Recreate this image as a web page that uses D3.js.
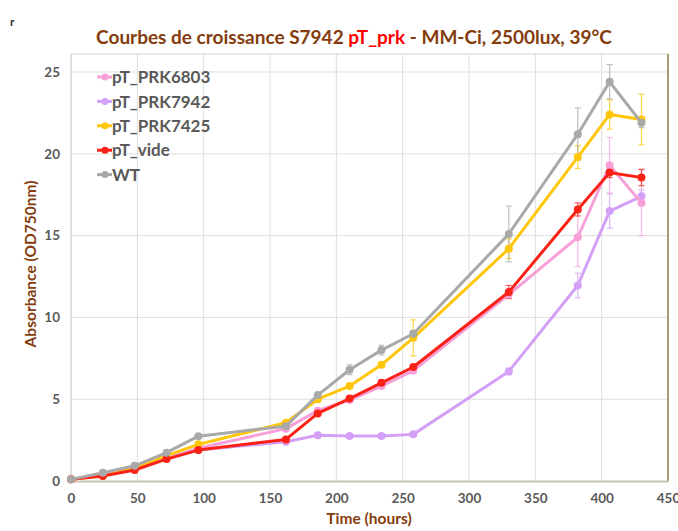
<!DOCTYPE html>
<html>
<head>
<meta charset="utf-8">
<script src="https://cdn.jsdelivr.net/npm/d3@7"></script>
<style>
  html, body { margin: 0; padding: 0; background: #fff; }
  svg { display: block; }
</style>
</head>
<body>
<svg id="chart" width="678" height="531"></svg>
<script>
// Sampling times (hours)
const hours = [0, 24, 48, 72, 96, 162, 186, 210, 234, 258, 330, 382, 406, 430];

// Absorbance (OD750nm) per strain
const prk6803 = [0.1, 0.35, 0.75, 1.4, 2.0, 3.2, 4.3, 4.95, 5.8, 6.75, 11.4, 14.9, 19.3, 17.0];
const prk7942 = [0.1, 0.35, 0.7, 1.4, 1.9, 2.4, 2.8, 2.75, 2.75, 2.85, 6.7, 11.95, 16.5, 17.4];
const prk7425 = [0.1, 0.3, 0.8, 1.55, 2.24, 3.56, 5.0, 5.8, 7.1, 8.75, 14.2, 19.8, 22.4, 22.1];
const vide    = [0.1, 0.3, 0.67, 1.34, 1.89, 2.54, 4.13, 5.04, 6.0, 6.97, 11.55, 16.6, 18.85, 18.55];
const wt      = [0.1, 0.5, 0.93, 1.73, 2.74, 3.35, 5.25, 6.8, 8.0, 9.0, 15.1, 21.2, 24.4, 21.9];

// Standard deviations
const err6803 = [0, 0, 0, 0, 0, 0, 0, 0, 0, 0, 0, 1.8, 1.7, 2.0];
const err7942 = [0, 0, 0, 0, 0, 0, 0, 0, 0, 0, 0.2, 0.75, 1.05, 0.4];
const err7425 = [0, 0, 0, 0, 0, 0, 0, 0, 0, 1.1, 0.6, 0.7, 0.9, 1.55];
const errVide = [0, 0, 0, 0, 0, 0, 0, 0, 0, 0, 0.4, 0.4, 0.3, 0.5];
const errWt   = [0, 0, 0, 0, 0, 0, 0, 0.3, 0.3, 0.2, 1.7, 1.6, 1.05, 0.3];

const seriesNames = ["pT_PRK6803", "pT_PRK7942", "pT_PRK7425", "pT_vide", "WT"];

const xTicks = [0, 50, 100, 150, 200, 250, 300, 350, 400, 450];
const yTicks = [0, 5, 10, 15, 20, 25];

const series = [
  { name: seriesNames[0], values: prk6803, err: err6803, color: "#F7A0D8" },
  { name: seriesNames[1], values: prk7942, err: err7942, color: "#D4A0F7" },
  { name: seriesNames[2], values: prk7425, err: err7425, color: "#FFC60A" },
  { name: seriesNames[3], values: vide,    err: errVide, color: "#FA2216" },
  { name: seriesNames[4], values: wt,      err: errWt,   color: "#A9A9A9" }
];

const svg = d3.select("#chart");
const plotLeft = 71, plotRight = 668, plotTop = 54, plotBottom = 481;

const x = d3.scaleLinear().domain([0, 450]).range([plotLeft, plotRight]);
const y = d3.scaleLinear().domain([0, 26.1]).range([plotBottom, plotTop]);

const font = "Lato, 'Open Sans', sans-serif";

// Gridlines
svg.append("g")
  .selectAll("line")
  .data(xTicks.slice(1, -1))
  .join("line")
  .attr("x1", d => x(d)).attr("x2", d => x(d))
  .attr("y1", plotTop).attr("y2", plotBottom)
  .attr("stroke", "#dedede").attr("stroke-width", 1);
svg.append("g")
  .selectAll("line")
  .data(yTicks.slice(1))
  .join("line")
  .attr("x1", plotLeft).attr("x2", plotRight)
  .attr("y1", d => y(d)).attr("y2", d => y(d))
  .attr("stroke", "#dedede").attr("stroke-width", 1);

// Plot frame
svg.append("line").attr("x1", plotLeft).attr("x2", plotRight).attr("y1", plotTop).attr("y2", plotTop)
  .attr("stroke", "#d8d4c8").attr("stroke-width", 1);
svg.append("line").attr("x1", plotRight).attr("x2", plotRight).attr("y1", plotTop).attr("y2", plotBottom)
  .attr("stroke", "#a89c70").attr("stroke-width", 2);
svg.append("line").attr("x1", plotLeft).attr("x2", plotLeft).attr("y1", plotTop).attr("y2", plotBottom)
  .attr("stroke", "#d4d4d4").attr("stroke-width", 1.5);

// Axes
const xAxis = svg.append("g")
  .attr("transform", `translate(0,${plotBottom})`)
  .call(d3.axisBottom(x).tickValues(xTicks).tickSize(0).tickPadding(12));
xAxis.select(".domain").attr("stroke", "#c9c4b4").attr("stroke-width", 2);
xAxis.selectAll("text")
  .attr("font-family", font).attr("font-weight", "bold")
  .attr("font-size", 13.5).attr("fill", "#595959");

const yAxis = svg.append("g")
  .attr("transform", `translate(${plotLeft},0)`)
  .call(d3.axisLeft(y).tickValues(yTicks).tickSize(0).tickPadding(11));
yAxis.select(".domain").remove();
yAxis.selectAll("text")
  .attr("font-family", font).attr("font-weight", "bold")
  .attr("font-size", 13.5).attr("fill", "#595959");

// Error bars
series.forEach(s => {
  const g = svg.append("g").attr("opacity", 0.75);
  const pts = hours.map((h, i) => ({ h, v: s.values[i], e: s.err[i] })).filter(p => p.e > 0);
  g.selectAll("line.bar").data(pts).join("line")
    .attr("class", "bar")
    .attr("x1", d => x(d.h)).attr("x2", d => x(d.h))
    .attr("y1", d => y(d.v - d.e)).attr("y2", d => y(d.v + d.e))
    .attr("stroke", s.color).attr("stroke-width", 1.2);
  [-1, 1].forEach(sign => {
    g.append("g").selectAll("line").data(pts).join("line")
      .attr("x1", d => x(d.h) - 3).attr("x2", d => x(d.h) + 3)
      .attr("y1", d => y(d.v + sign * d.e)).attr("y2", d => y(d.v + sign * d.e))
      .attr("stroke", s.color).attr("stroke-width", 1.2);
  });
});

// Lines and markers
const line = d3.line().x((d, i) => x(hours[i])).y(d => y(d));
const drawOrder = [1, 0, 2, 3, 4];
drawOrder.forEach(k => {
  const s = series[k];
  svg.append("path").datum(s.values)
    .attr("d", line).attr("fill", "none")
    .attr("stroke", s.color).attr("stroke-width", 3)
    .attr("stroke-linejoin", "round");
  svg.append("g").selectAll("circle").data(s.values).join("circle")
    .attr("cx", (d, i) => x(hours[i])).attr("cy", d => y(d))
    .attr("r", 4).attr("fill", s.color);
});

// Legend
const legend = svg.append("g").attr("transform", "translate(97,77)");
series.forEach((s, i) => {
  const row = legend.append("g").attr("transform", `translate(0,${i * 24.4})`);
  row.append("line").attr("x1", 0).attr("x2", 15).attr("y1", 0).attr("y2", 0)
    .attr("stroke", s.color).attr("stroke-width", 3);
  row.append("circle").attr("cx", 8).attr("cy", 0).attr("r", 3.5).attr("fill", s.color);
  row.append("text").attr("x", 15).attr("y", 0).attr("dy", "0.36em")
    .attr("font-family", font).attr("font-weight", "bold")
    .attr("font-size", 17).attr("fill", "#595959")
    .text(s.name);
});

// Title
const title = svg.append("text")
  .attr("x", 354).attr("y", 44).attr("text-anchor", "middle")
  .attr("font-family", font).attr("font-weight", "bold")
  .attr("font-size", 19).attr("fill", "#843C0C");
title.append("tspan").text("Courbes de croissance S7942 ");
title.append("tspan").attr("fill", "#FF0000").text("pT_prk");
title.append("tspan").text(" - MM-Ci, 2500lux, 39°C");

// Axis titles
svg.append("text")
  .attr("x", 369).attr("y", 524).attr("text-anchor", "middle")
  .attr("font-family", font).attr("font-weight", "bold")
  .attr("font-size", 15.5).attr("fill", "#843C0C")
  .text("Time (hours)");
svg.append("text")
  .attr("transform", "translate(36,264) rotate(-90)")
  .attr("text-anchor", "middle")
  .attr("font-family", font).attr("font-weight", "bold")
  .attr("font-size", 15.5).attr("fill", "#843C0C")
  .text("Absorbance (OD750nm)");

// Stray glyph at the top-left corner
svg.append("text").attr("x", 10).attr("y", 26)
  .attr("font-family", font).attr("font-weight", "bold")
  .attr("font-size", 12).attr("fill", "#333").text("r");
</script>
</body>
</html>
